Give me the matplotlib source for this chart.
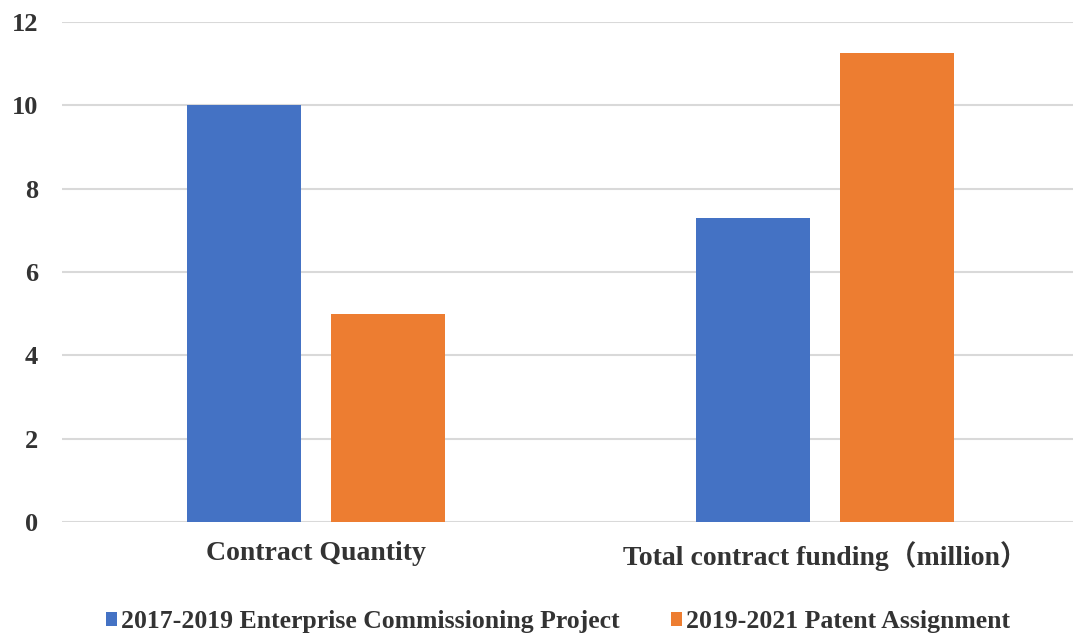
import matplotlib
matplotlib.use('Agg')
import matplotlib.pyplot as plt
import numpy as np

categories = ['Contract Quantity', 'Total contract funding（million）']
series_names = ['2017-2019 Enterprise Commissioning Project', '2019-2021 Patent Assignment']
blue_vals = [10, 7.3]
orange_vals = [5, 11.25]
yticks = [0, 2, 4, 6, 8, 10, 12]

plt.rcParams['font.family'] = ['Liberation Serif', 'Noto Sans CJK SC']
plt.rcParams['font.weight'] = 'bold'

fig = plt.figure(figsize=(10.73, 6.35), dpi=100)
ax = fig.add_axes([61.5 / 1073, 113 / 635, (1073 - 61.5) / 1073, 500 / 635])

x = np.arange(len(categories))
w = 0.224
off = 0.1415
ax.bar(x - off, blue_vals, w, color='#4472C4', label=series_names[0], zorder=3)
ax.bar(x + off, orange_vals, w, color='#ED7D31', label=series_names[1], zorder=3)

ax.set_xlim(-0.5, 1.5 - 6.5 / 509)
ax.set_ylim(0, 12)
ax.set_yticks(yticks)
ax.yaxis.grid(True, color='#d9d9d9', linewidth=1.5, zorder=0)
ax.set_xticks(x)
ax.set_xticklabels(categories, fontsize=20, fontweight='bold', color='#333333')
for lbl in ax.get_yticklabels():
    lbl.set_fontsize(19)
    lbl.set_fontweight('bold')
    lbl.set_color('#333333')
ax.tick_params(axis='both', length=0)
ax.tick_params(axis='x', pad=14)
ax.tick_params(axis='y', pad=17)
for s in ax.spines.values():
    s.set_visible(False)

fig.legend(loc='center', bbox_to_anchor=(0.52, 0.021), ncol=2, frameon=False,
           handlelength=0.43, handleheight=0.43, handletextpad=0.15,
           columnspacing=2.0, prop={'weight': 'bold', 'size': 18.5})
for t in fig.legends[0].get_texts():
    t.set_color('#333333')

fig.savefig('out.png', dpi=100)
